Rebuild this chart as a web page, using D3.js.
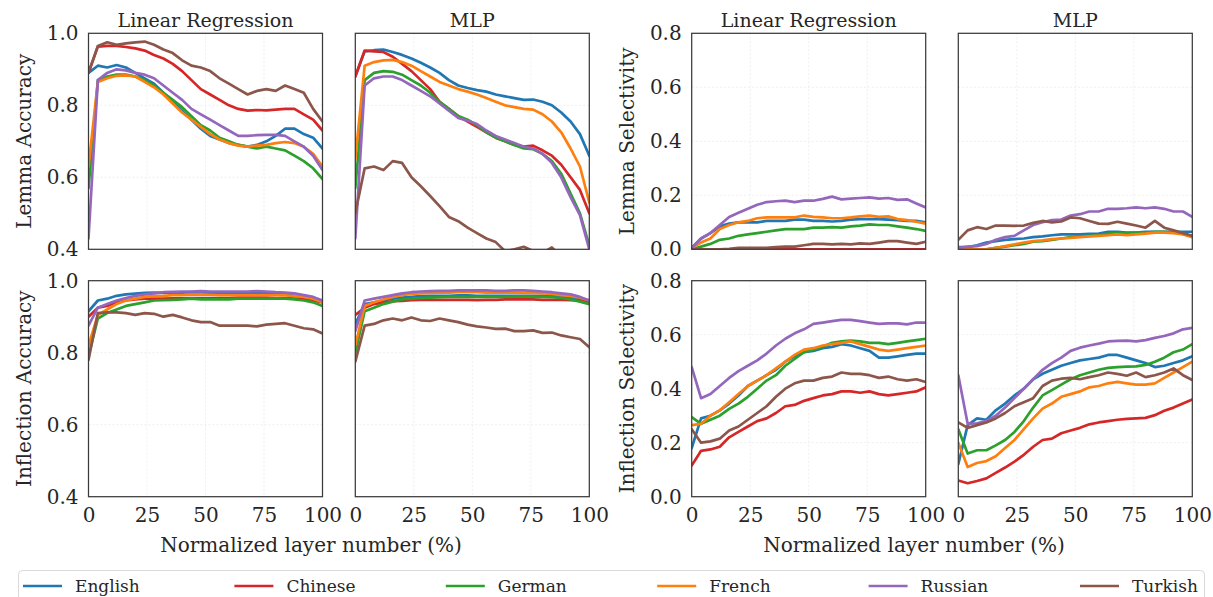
<!DOCTYPE html>
<html>
<head>
<meta charset="utf-8">
<style>
  body { margin: 0; background: #fff; }
  svg text { font-family: "DejaVu Serif", serif; fill: #262626; }
</style>
</head>
<body>
<script src="https://cdnjs.cloudflare.com/ajax/libs/d3/7.8.5/d3.min.js"></script>
<script>
// ---- data ----
var languages = ["English", "Chinese", "German", "French", "Russian", "Turkish"];
var colors = ["#1f77b4", "#d62728", "#2ca02c", "#ff7f0e", "#9467bd", "#8c564b"];
var layerPct = [0, 4, 8, 12, 16, 20, 24, 28, 32, 36, 40, 44, 48, 52, 56, 60, 64, 68, 72, 76, 80, 84, 88, 92, 96, 100];
var xTicks = [0, 25, 50, 75, 100];
var accTicks = [0.4, 0.6, 0.8, 1.0];
var selTicks = [0.0, 0.2, 0.4, 0.6, 0.8];

// rows: English, Chinese, German, French, Russian, Turkish
var lrLemmaAcc = [
  [0.89,0.91,0.905,0.912,0.905,0.89,0.875,0.86,0.835,0.81,0.785,0.76,0.735,0.715,0.705,0.695,0.69,0.685,0.69,0.70,0.715,0.735,0.735,0.72,0.71,0.68],
  [0.89,0.963,0.965,0.965,0.962,0.958,0.952,0.94,0.93,0.915,0.895,0.87,0.845,0.83,0.815,0.80,0.79,0.785,0.787,0.786,0.788,0.79,0.79,0.775,0.76,0.73],
  [0.57,0.87,0.88,0.885,0.885,0.88,0.87,0.855,0.835,0.815,0.795,0.77,0.745,0.73,0.71,0.70,0.69,0.685,0.68,0.685,0.68,0.675,0.66,0.645,0.625,0.595],
  [0.63,0.865,0.875,0.882,0.883,0.88,0.865,0.85,0.83,0.805,0.78,0.76,0.74,0.72,0.705,0.695,0.688,0.685,0.688,0.69,0.695,0.698,0.695,0.685,0.665,0.63],
  [0.43,0.87,0.89,0.90,0.897,0.89,0.885,0.875,0.855,0.835,0.815,0.79,0.775,0.76,0.745,0.73,0.715,0.715,0.717,0.718,0.718,0.715,0.70,0.685,0.66,0.62],
  [0.89,0.965,0.975,0.968,0.972,0.975,0.977,0.968,0.955,0.945,0.925,0.91,0.905,0.895,0.875,0.86,0.845,0.83,0.84,0.845,0.84,0.855,0.845,0.835,0.79,0.755]
];
var mlpLemmaAcc = [
  [0.88,0.95,0.953,0.955,0.948,0.94,0.93,0.918,0.905,0.89,0.87,0.855,0.848,0.842,0.838,0.83,0.825,0.82,0.815,0.816,0.81,0.80,0.78,0.755,0.72,0.66],
  [0.88,0.952,0.95,0.948,0.935,0.915,0.895,0.87,0.845,0.81,0.79,0.77,0.755,0.74,0.725,0.71,0.70,0.69,0.685,0.688,0.675,0.66,0.635,0.60,0.565,0.50],
  [0.57,0.87,0.89,0.895,0.893,0.885,0.87,0.855,0.835,0.81,0.79,0.77,0.76,0.745,0.725,0.71,0.70,0.69,0.68,0.678,0.665,0.645,0.61,0.555,0.50,0.41],
  [0.65,0.91,0.92,0.925,0.926,0.92,0.91,0.895,0.88,0.865,0.855,0.845,0.838,0.83,0.82,0.81,0.80,0.795,0.79,0.788,0.775,0.755,0.725,0.68,0.63,0.53],
  [0.43,0.855,0.875,0.88,0.88,0.87,0.855,0.84,0.825,0.805,0.785,0.765,0.757,0.748,0.73,0.715,0.705,0.695,0.685,0.68,0.665,0.64,0.60,0.545,0.495,0.40],
  [0.50,0.625,0.63,0.62,0.645,0.64,0.60,0.575,0.548,0.52,0.49,0.478,0.46,0.445,0.43,0.42,0.395,0.40,0.407,0.395,0.39,0.405,0.38,0.37,0.36,0.35]
];
var lrInflAcc = [
  [0.915,0.945,0.95,0.958,0.962,0.964,0.966,0.967,0.966,0.967,0.967,0.968,0.967,0.967,0.966,0.966,0.966,0.967,0.966,0.965,0.963,0.962,0.958,0.955,0.95,0.94],
  [0.90,0.925,0.93,0.94,0.945,0.948,0.95,0.95,0.95,0.951,0.951,0.952,0.952,0.952,0.952,0.952,0.953,0.953,0.953,0.953,0.952,0.952,0.95,0.948,0.945,0.94],
  [0.79,0.895,0.91,0.92,0.93,0.935,0.94,0.945,0.946,0.947,0.948,0.95,0.948,0.948,0.948,0.948,0.95,0.95,0.95,0.95,0.951,0.95,0.948,0.945,0.94,0.93],
  [0.82,0.905,0.92,0.935,0.945,0.95,0.955,0.957,0.958,0.96,0.96,0.961,0.962,0.961,0.96,0.96,0.96,0.96,0.96,0.96,0.96,0.959,0.958,0.955,0.95,0.94],
  [0.875,0.925,0.935,0.945,0.952,0.958,0.962,0.965,0.968,0.969,0.97,0.97,0.971,0.97,0.97,0.97,0.97,0.97,0.971,0.97,0.968,0.967,0.965,0.96,0.955,0.945],
  [0.78,0.91,0.912,0.912,0.91,0.905,0.91,0.908,0.90,0.905,0.898,0.89,0.885,0.885,0.875,0.875,0.875,0.875,0.873,0.878,0.88,0.882,0.875,0.868,0.865,0.853]
];
var mlpInflAcc = [
  [0.88,0.935,0.94,0.945,0.95,0.953,0.955,0.957,0.958,0.958,0.958,0.959,0.959,0.958,0.958,0.958,0.958,0.958,0.958,0.958,0.958,0.957,0.955,0.952,0.948,0.94],
  [0.905,0.925,0.935,0.94,0.943,0.944,0.946,0.947,0.947,0.947,0.947,0.947,0.947,0.946,0.947,0.947,0.948,0.948,0.948,0.948,0.947,0.947,0.947,0.946,0.945,0.94],
  [0.80,0.915,0.925,0.935,0.942,0.948,0.95,0.952,0.953,0.954,0.955,0.955,0.955,0.955,0.955,0.955,0.955,0.956,0.956,0.955,0.955,0.954,0.952,0.948,0.942,0.935],
  [0.82,0.93,0.94,0.948,0.955,0.96,0.963,0.965,0.966,0.967,0.967,0.968,0.968,0.968,0.967,0.967,0.967,0.967,0.966,0.966,0.965,0.963,0.96,0.958,0.953,0.945],
  [0.86,0.945,0.95,0.955,0.96,0.965,0.968,0.97,0.971,0.972,0.972,0.973,0.973,0.973,0.973,0.972,0.972,0.973,0.973,0.972,0.97,0.968,0.965,0.962,0.955,0.945],
  [0.775,0.875,0.88,0.89,0.895,0.89,0.898,0.89,0.888,0.895,0.89,0.885,0.878,0.873,0.87,0.866,0.867,0.86,0.86,0.862,0.855,0.856,0.848,0.843,0.838,0.815]
];
var lrLemmaSel = [
  [0.005,0.04,0.06,0.085,0.095,0.10,0.10,0.10,0.105,0.105,0.105,0.11,0.11,0.105,0.105,0.103,0.105,0.11,0.112,0.112,0.112,0.11,0.108,0.105,0.105,0.10],
  [0.0,0.0,0.0,0.0,0.0,0.0,0.0,0.0,0.0,0.0,0.0,0.0,0.0,0.0,0.0,0.0,0.0,0.0,0.0,0.0,0.0,0.0,0.0,0.0,0.0,0.0],
  [0.0,0.01,0.02,0.035,0.04,0.05,0.055,0.06,0.065,0.07,0.075,0.075,0.075,0.08,0.08,0.082,0.08,0.085,0.088,0.092,0.09,0.09,0.085,0.08,0.075,0.068],
  [0.005,0.025,0.04,0.075,0.09,0.10,0.105,0.115,0.118,0.118,0.118,0.118,0.125,0.12,0.118,0.115,0.115,0.118,0.122,0.125,0.12,0.122,0.112,0.108,0.102,0.095],
  [0.005,0.04,0.06,0.09,0.12,0.135,0.15,0.165,0.175,0.178,0.18,0.175,0.18,0.18,0.187,0.195,0.185,0.188,0.19,0.192,0.188,0.19,0.183,0.185,0.17,0.155],
  [0.0,0.0,0.0,0.0,0.002,0.005,0.005,0.005,0.005,0.008,0.01,0.01,0.015,0.02,0.02,0.018,0.02,0.018,0.022,0.02,0.025,0.03,0.03,0.025,0.02,0.028]
];
var mlpLemmaSel = [
  [0.008,0.008,0.015,0.025,0.03,0.035,0.038,0.04,0.045,0.048,0.052,0.055,0.055,0.055,0.057,0.058,0.065,0.065,0.062,0.062,0.065,0.065,0.065,0.065,0.065,0.065],
  [-0.02,-0.02,-0.02,-0.02,-0.02,-0.02,-0.02,-0.02,-0.02,-0.02,-0.02,-0.02,-0.02,-0.02,-0.02,-0.02,-0.02,-0.02,-0.02,-0.02,-0.02,-0.02,-0.02,-0.02,-0.02,-0.02],
  [0.0,0.0,0.0,0.0,0.005,0.01,0.015,0.02,0.028,0.03,0.035,0.04,0.045,0.048,0.05,0.052,0.058,0.06,0.06,0.062,0.062,0.065,0.065,0.062,0.058,0.048],
  [0.0,0.0,0.0,0.0,0.005,0.012,0.018,0.025,0.03,0.033,0.038,0.04,0.042,0.045,0.048,0.05,0.052,0.055,0.052,0.055,0.058,0.062,0.062,0.06,0.055,0.045],
  [0.005,0.01,0.012,0.02,0.035,0.045,0.05,0.07,0.09,0.10,0.108,0.11,0.125,0.13,0.14,0.14,0.15,0.15,0.152,0.155,0.152,0.155,0.15,0.14,0.14,0.12],
  [0.035,0.07,0.082,0.075,0.088,0.088,0.087,0.088,0.098,0.105,0.10,0.103,0.118,0.115,0.105,0.095,0.094,0.102,0.095,0.088,0.08,0.105,0.08,0.07,0.06,0.05]
];
var lrInflSel = [
  [0.18,0.29,0.30,0.32,0.345,0.375,0.41,0.43,0.45,0.47,0.50,0.52,0.535,0.54,0.55,0.555,0.565,0.56,0.55,0.54,0.515,0.515,0.52,0.525,0.53,0.53],
  [0.115,0.17,0.175,0.185,0.22,0.24,0.26,0.28,0.29,0.31,0.335,0.34,0.355,0.365,0.375,0.38,0.39,0.39,0.385,0.39,0.38,0.375,0.38,0.385,0.39,0.405],
  [0.295,0.27,0.285,0.30,0.325,0.345,0.37,0.40,0.43,0.45,0.485,0.51,0.535,0.545,0.555,0.57,0.575,0.578,0.575,0.57,0.57,0.565,0.57,0.575,0.58,0.585],
  [0.265,0.27,0.30,0.32,0.35,0.38,0.41,0.43,0.45,0.475,0.50,0.525,0.545,0.55,0.56,0.565,0.57,0.575,0.565,0.555,0.545,0.54,0.545,0.55,0.555,0.56],
  [0.48,0.365,0.38,0.41,0.44,0.465,0.485,0.505,0.53,0.56,0.585,0.605,0.62,0.64,0.645,0.65,0.655,0.655,0.65,0.645,0.64,0.642,0.642,0.638,0.645,0.645],
  [0.25,0.20,0.205,0.215,0.245,0.26,0.285,0.31,0.335,0.37,0.40,0.42,0.43,0.43,0.44,0.445,0.46,0.455,0.455,0.45,0.44,0.445,0.435,0.43,0.435,0.425]
];
var mlpInflSel = [
  [0.12,0.265,0.29,0.285,0.32,0.345,0.375,0.40,0.435,0.455,0.47,0.485,0.495,0.505,0.51,0.515,0.525,0.525,0.515,0.505,0.495,0.48,0.485,0.495,0.505,0.52],
  [0.06,0.05,0.058,0.068,0.088,0.108,0.13,0.155,0.185,0.21,0.215,0.235,0.245,0.255,0.268,0.275,0.28,0.285,0.288,0.29,0.292,0.302,0.318,0.33,0.345,0.36],
  [0.25,0.16,0.172,0.172,0.19,0.21,0.24,0.28,0.33,0.375,0.395,0.415,0.435,0.45,0.46,0.47,0.477,0.48,0.482,0.483,0.488,0.50,0.515,0.535,0.545,0.565],
  [0.20,0.11,0.125,0.132,0.15,0.18,0.21,0.25,0.29,0.326,0.345,0.37,0.38,0.39,0.405,0.41,0.42,0.425,0.42,0.415,0.415,0.42,0.44,0.46,0.48,0.50],
  [0.45,0.27,0.272,0.28,0.30,0.33,0.365,0.40,0.435,0.47,0.495,0.515,0.54,0.552,0.56,0.567,0.575,0.577,0.578,0.575,0.58,0.588,0.595,0.605,0.62,0.625],
  [0.275,0.255,0.265,0.275,0.29,0.31,0.335,0.35,0.365,0.41,0.43,0.437,0.44,0.435,0.443,0.45,0.46,0.455,0.448,0.46,0.443,0.45,0.46,0.475,0.45,0.432]
];

// ---- layout ----
var width = 1213, height = 597;
var colX = [88.5, 355.3, 691.7, 958.3], rowY = [33.3, 280.7];
var pw = 234, ph = 216;

var svg = d3.select("body").append("svg")
    .attr("width", width)
    .attr("height", height);

var panels = [
  { col: 0, row: 0, data: lrLemmaAcc, acc: true, title: "Linear Regression", ylabel: "Lemma Accuracy" },
  { col: 1, row: 0, data: mlpLemmaAcc, acc: true, title: "MLP" },
  { col: 0, row: 1, data: lrInflAcc, acc: true, ylabel: "Inflection Accuracy" },
  { col: 1, row: 1, data: mlpInflAcc, acc: true },
  { col: 2, row: 0, data: lrLemmaSel, acc: false, title: "Linear Regression", ylabel: "Lemma Selectivity" },
  { col: 3, row: 0, data: mlpLemmaSel, acc: false, title: "MLP" },
  { col: 2, row: 1, data: lrInflSel, acc: false, ylabel: "Inflection Selectivity" },
  { col: 3, row: 1, data: mlpInflSel, acc: false }
];

panels.forEach(function(p, i) {
  var x = d3.scaleLinear().domain([0, 100]).range([0, pw]);
  var ticks = p.acc ? accTicks : selTicks;
  var y = d3.scaleLinear().domain(p.acc ? [0.4, 1.0] : [0.0, 0.8]).range([ph, 0]);

  var g = svg.append("g")
      .attr("transform", "translate(" + colX[p.col] + "," + rowY[p.row] + ")");

  // faint dotted grid
  g.selectAll(".vgrid").data(xTicks.slice(1, -1)).enter().append("line")
      .attr("x1", function(d) { return x(d); }).attr("x2", function(d) { return x(d); })
      .attr("y1", 0).attr("y2", ph)
      .attr("stroke", "#ebebeb").attr("stroke-width", 0.8).attr("stroke-dasharray", "2,2");
  g.selectAll(".hgrid").data(ticks.slice(1, -1)).enter().append("line")
      .attr("x1", 0).attr("x2", pw)
      .attr("y1", function(d) { return y(d); }).attr("y2", function(d) { return y(d); })
      .attr("stroke", "#ebebeb").attr("stroke-width", 0.8).attr("stroke-dasharray", "2,2");

  svg.append("clipPath").attr("id", "clip" + i)
    .append("rect").attr("width", pw).attr("height", ph);

  var line = d3.line()
      .x(function(d, j) { return x(layerPct[j]); })
      .y(function(d) { return y(d); });

  g.append("g").attr("clip-path", "url(#clip" + i + ")")
    .selectAll("path").data(p.data).enter().append("path")
      .attr("d", line)
      .attr("fill", "none")
      .attr("stroke", function(d, k) { return colors[k]; })
      .attr("stroke-width", 2.7)
      .attr("stroke-linejoin", "round")
      .attr("stroke-linecap", "round");

  g.append("rect").attr("width", pw).attr("height", ph)
      .attr("fill", "none").attr("stroke", "#3a3a3a").attr("stroke-width", 1.25);

  if (p.col === 0 || p.col === 2) {
    var ya = g.append("g")
        .call(d3.axisLeft(y).tickValues(ticks).tickSize(0).tickPadding(10).tickFormat(d3.format(".1f")));
    ya.select(".domain").remove();
    ya.selectAll("text").style("font-family", "DejaVu Serif").style("font-size", "20px").attr("fill", "#262626");
  }
  if (p.row === 1) {
    var xa = g.append("g").attr("transform", "translate(0," + ph + ")")
        .call(d3.axisBottom(x).tickValues(xTicks).tickSize(0).tickPadding(11));
    xa.select(".domain").remove();
    xa.selectAll("text").style("font-family", "DejaVu Serif").style("font-size", "20px").attr("fill", "#262626");
  }
  if (p.title) {
    g.append("text").attr("x", pw / 2).attr("y", -6)
        .attr("text-anchor", "middle").style("font-size", "19px").text(p.title);
  }
  if (p.ylabel) {
    g.append("text")
        .attr("transform", "translate(-58," + (ph / 2) + ") rotate(-90)")
        .attr("text-anchor", "middle").style("font-size", "20px").text(p.ylabel);
  }
});

// x labels
svg.append("text").attr("x", 311).attr("y", 552).attr("text-anchor", "middle")
    .style("font-size", "20px").text("Normalized layer number (%)");
svg.append("text").attr("x", 914).attr("y", 552).attr("text-anchor", "middle")
    .style("font-size", "20px").text("Normalized layer number (%)");

// legend
svg.append("rect").attr("x", 18.5).attr("y", 570.5).attr("width", 1186).attr("height", 40)
    .attr("rx", 4).attr("fill", "#fff").attr("stroke", "#d9d9d9").attr("stroke-width", 1);
var leg = svg.selectAll(".leg").data(languages).enter().append("g")
    .attr("transform", function(d, i) { return "translate(" + (23 + i * 211.4) + ",586)"; });
leg.append("line").attr("x1", 0).attr("x2", 39).attr("y1", 0).attr("y2", 0)
    .attr("stroke", function(d, i) { return colors[i]; }).attr("stroke-width", 2.7);
leg.append("text").attr("x", 52).attr("y", 0).attr("dy", "0.35em")
    .style("font-size", "17px").text(function(d) { return d; });
</script>
</body>
</html>
